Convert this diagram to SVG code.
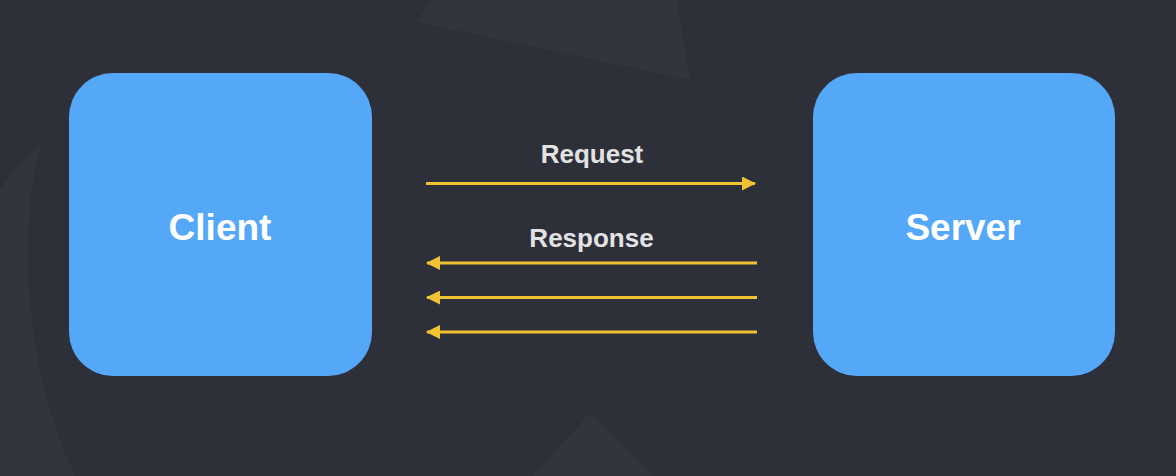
<svg xmlns="http://www.w3.org/2000/svg" width="1176" height="476" viewBox="0 0 1176 476">
<defs>
<style>
.node{fill:#55a8f7;}
.ntext{font-family:"Liberation Sans",Arial,sans-serif;font-weight:bold;font-size:37px;fill:#ffffff;text-anchor:middle;}
.ltext{font-family:"Liberation Sans",Arial,sans-serif;font-weight:bold;font-size:26px;fill:#e2e2e4;text-anchor:middle;}
.conn{stroke:#f1c232;stroke-width:3;fill:none;}
.bgshape{fill:#32353e;}
</style>
<marker id="ah" viewBox="0 0 14 14" refX="13" refY="7" markerWidth="14" markerHeight="14" markerUnits="userSpaceOnUse" orient="auto">
<path d="M0,0 L14,7 L0,14 Z" fill="#f1c232"/>
</marker>
</defs>
<rect width="1176" height="476" fill="#2e3039"/>
<g id="background">
<path class="bgshape" d="M430,0 L417,22 L690,80 L677,0 Z"/>
<path class="bgshape" d="M590,413 L533,476 L653,476 Z"/>
<path class="bgshape" d="M43,140 Q12,170 0,190 L0,476 L75,476 Q35,390 28,280 Q26,190 43,140 Z"/>
</g>
<g id="client">
<rect class="node" x="69" y="73" width="303" height="303" rx="44" ry="44"/>
<text class="ntext" x="220" y="240">Client</text>
</g>
<g id="server">
<rect class="node" x="813" y="73" width="302" height="303" rx="44" ry="44"/>
<text class="ntext" x="963" y="240">Server</text>
</g>
<g id="connectors">
<line class="conn" x1="426" y1="183.5" x2="755" y2="183.5" marker-end="url(#ah)"/>
<line class="conn" x1="757" y1="263" x2="427" y2="263" marker-end="url(#ah)"/>
<line class="conn" x1="757" y1="297.5" x2="427" y2="297.5" marker-end="url(#ah)"/>
<line class="conn" x1="757" y1="332" x2="427" y2="332" marker-end="url(#ah)"/>
<text class="ltext" x="592" y="163">Request</text>
<text class="ltext" x="591.5" y="247">Response</text>
</g>
</svg>
